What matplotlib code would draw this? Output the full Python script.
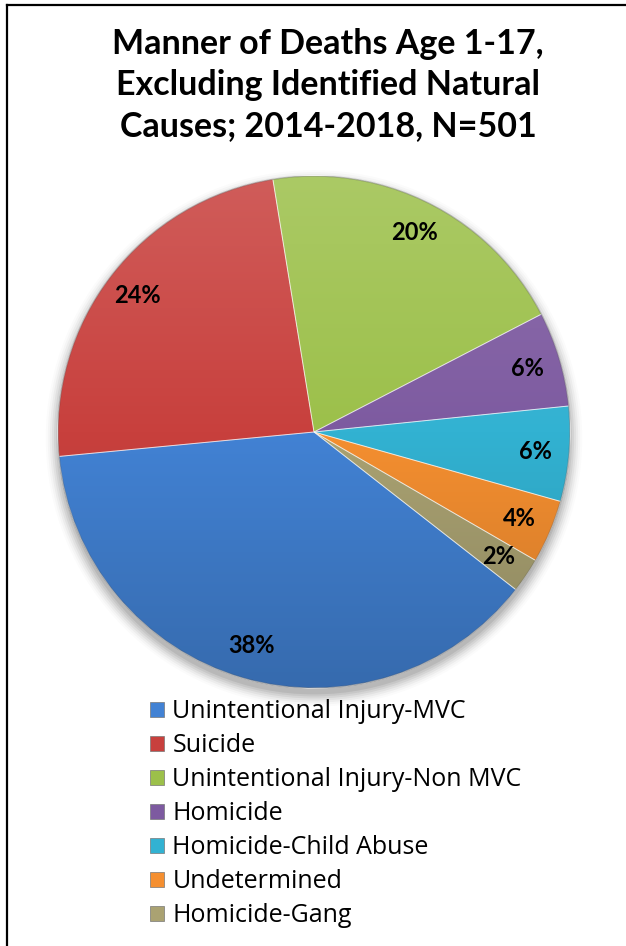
import matplotlib
matplotlib.use('Agg')
import matplotlib.pyplot as plt
import numpy as np
from matplotlib.colors import LinearSegmentedColormap, to_rgb
from matplotlib.patches import Patch, Circle, Wedge
from matplotlib.lines import Line2D

title = "Manner of Deaths Age 1-17,\nExcluding Identified Natural\nCauses; 2014-2018, N=501"
categories = ["Unintentional Injury-MVC", "Suicide", "Unintentional Injury-Non MVC",
              "Homicide", "Homicide-Child Abuse", "Undetermined", "Homicide-Gang"]
counts = [190, 120, 100, 30, 30, 20, 11]
colors = ["#4282d4", "#c8403d", "#9cc04a", "#7d5aa0", "#32b2d2", "#f58f30", "#aaa272"]

W, H = 626, 946
fig = plt.figure(figsize=(W / 100, H / 100), dpi=100)

# frame (only left and top edges show in the reference)
fig.add_artist(Line2D([7 / W, 7 / W], [0, 1 - 5 / H], transform=fig.transFigure, color='black', lw=1.6))
fig.add_artist(Line2D([7 / W, 1], [1 - 5 / H, 1 - 5 / H], transform=fig.transFigure, color='black', lw=1.6))

fig.text(328 / W, 1 - 85 / H, title, ha='center', va='center', fontsize=24.5,
         fontweight='bold', family='Lato', linespacing=1.36)

cx, cy, R = 314, 432, 256
ax = fig.add_axes([(cx - R) / W, (H - cy - R) / H, 2 * R / W, 2 * R / H])

# soft shadow under the pie
for i, a in enumerate(np.linspace(0.07, 0.015, 7)):
    ax.add_patch(Circle((0.0, -0.025), 1.0 + 0.008 * i, color='black', alpha=a, lw=0, zorder=0, clip_on=False))

wedges, texts, autotexts = ax.pie(counts, colors=colors, startangle=-38, counterclock=False,
                                  autopct=lambda p: f"{p:.0f}%", pctdistance=0.87,
                                  wedgeprops=dict(edgecolor='white', linewidth=0.6),
                                  textprops=dict(fontsize=17, fontweight='bold', family='Lato'))
ax.set_xlim(-1, 1)
ax.set_ylim(-1, 1)
ax.axis('off')

# vertical shading on each slice: lighter at the top, darker at the bottom
grad = np.linspace(0, 1, 256).reshape(-1, 1)
for w, c in zip(wedges, colors):
    rgb = np.array(to_rgb(c))
    light = np.clip(rgb + (1 - rgb) * 0.15, 0, 1)
    dark = rgb * 0.82
    cmap = LinearSegmentedColormap.from_list('g', [dark, rgb, light])
    im = ax.imshow(grad, extent=[-1, 1, -1, 1], cmap=cmap, origin='lower', aspect='auto', zorder=1.5)
    im.set_clip_path(w)
    w.set_zorder(1)
for t in autotexts:
    t.set_zorder(3)

# slice borders on top of the shading
for w in wedges:
    ax.add_patch(Wedge(w.center, w.r, w.theta1, w.theta2, facecolor='none',
                       edgecolor=(1, 1, 1, 0.45), lw=0.7, zorder=2))
ax.add_patch(Circle((0, 0), 1.0, facecolor='none', edgecolor=(0, 0, 0, 0.25), lw=1.0, zorder=2))

handles = [Patch(facecolor=c, edgecolor='#777777', lw=0.5) for c in colors]
fig.legend(handles, categories, loc='upper left', bbox_to_anchor=(150 / W, 1 - 699 / H),
           frameon=False, prop=dict(family='Open Sans', size=18), handlelength=0.55, handleheight=0.55,
           handletextpad=0.35, labelspacing=0.36, borderaxespad=0, borderpad=0)

fig.savefig('out.png', dpi=100)
